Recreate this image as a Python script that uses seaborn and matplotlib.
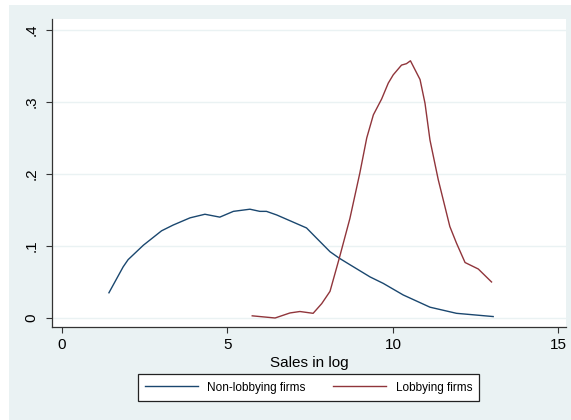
import matplotlib
matplotlib.use("Agg")
import matplotlib.pyplot as plt
import pandas as pd
import seaborn as sns
from matplotlib.patches import Rectangle

# kernel density curves
nonlobby_x = [1.42, 1.85, 2.0, 2.46, 3.01, 3.36, 3.87, 4.32, 4.77, 5.18, 5.68,
              5.98, 6.18, 6.49, 6.89, 7.39, 7.69, 8.10, 8.38, 8.70, 9.31, 9.71,
              10.31, 11.12, 11.92, 13.03]
nonlobby_y = [0.035, 0.071, 0.081, 0.101, 0.121, 0.129, 0.139, 0.144, 0.140,
              0.148, 0.151, 0.148, 0.148, 0.143, 0.135, 0.125, 0.111, 0.092,
              0.083, 0.074, 0.057, 0.048, 0.032, 0.015, 0.0065, 0.002]

lobby_x = [5.75, 6.44, 6.89, 7.19, 7.59, 7.85, 8.10, 8.38, 8.70, 9.00, 9.21,
           9.41, 9.66, 9.86, 10.01, 10.26, 10.41, 10.53, 10.82, 10.97, 11.12,
           11.37, 11.72, 11.92, 12.18, 12.58, 12.98]
lobby_y = [0.003, 0.0, 0.007, 0.009, 0.0065, 0.020, 0.037, 0.083, 0.138, 0.201,
           0.250, 0.282, 0.304, 0.326, 0.3375, 0.351, 0.353, 0.357, 0.331, 0.298,
           0.247, 0.192, 0.127, 0.104, 0.077, 0.068, 0.050]

series_names = ["Non-lobbying firms", "Lobbying firms"]
x_ticks = [0, 5, 10, 15]
y_ticks = [0, 0.1, 0.2, 0.3, 0.4]
y_tick_labels = ["0", ".1", ".2", ".3", ".4"]

df = pd.concat([
    pd.DataFrame({"x": nonlobby_x, "y": nonlobby_y, "group": series_names[0]}),
    pd.DataFrame({"x": lobby_x, "y": lobby_y, "group": series_names[1]}),
])

bg = "#EAF2F3"
plt.rcParams["font.family"] = ["Liberation Sans", "DejaVu Sans"]

fig = plt.figure(figsize=(5.71, 4.2), dpi=100, facecolor="white")
fig.patches.append(Rectangle((9 / 571, 0), 1, 1 - 5 / 420, transform=fig.transFigure,
                             facecolor=bg, edgecolor="none", zorder=-10))
ax = fig.add_axes([52 / 571, 1 - 327 / 420, 514 / 571, 308 / 420])
ax.set_facecolor("white")

sns.lineplot(
    data=df, x="x", y="y", hue="group", ax=ax,
    palette={series_names[0]: "#1A476F", series_names[1]: "#90353B"},
    estimator=None, sort=False, linewidth=1.0, legend=True,
)

ax.set_xlim(-0.3, 15.23)
ax.set_ylim(-0.0125, 0.415)
ax.set_xticks(x_ticks)
ax.set_yticks(y_ticks)
ax.set_yticklabels(y_tick_labels, rotation=90, va="center")
ax.tick_params(axis="both", labelsize=11, length=4.5, width=0.8, color="#333333")
ax.tick_params(axis="y", pad=5)
ax.tick_params(axis="x", pad=3.5)

for y in y_ticks:
    ax.axhline(y, color=bg, linewidth=1.0, zorder=0)

for side in ["top", "right"]:
    ax.spines[side].set_visible(False)
for side in ["left", "bottom"]:
    ax.spines[side].set_color("#333333")
    ax.spines[side].set_linewidth(0.9)

ax.set_xlabel("Sales in log", fontsize=11, labelpad=3)
ax.set_ylabel("")

ax.get_legend().remove()
handles, labels = ax.get_legend_handles_labels()
leg = fig.legend(
    handles, labels, loc="center", bbox_to_anchor=(308.5 / 571, 1 - 387.5 / 420),
    ncol=2, fontsize=8.5, frameon=True, fancybox=False, edgecolor="#222222",
    facecolor="white", framealpha=1, handlelength=4.5, handletextpad=0.8,
    columnspacing=2.3, borderpad=0.6, borderaxespad=0,
)
leg.get_frame().set_linewidth(0.9)

fig.savefig("out.png", dpi=100, facecolor=fig.get_facecolor())
